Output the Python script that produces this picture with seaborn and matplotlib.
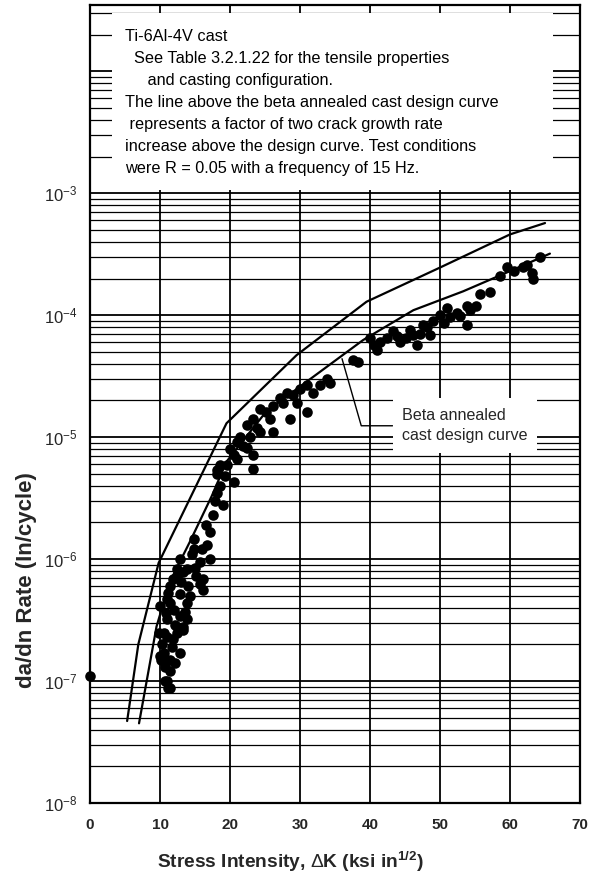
import matplotlib
matplotlib.use("Agg")
import matplotlib.pyplot as plt
from matplotlib.patches import Rectangle
from matplotlib.ticker import LogLocator, NullLocator
import pandas as pd
import seaborn as sns

sns.set_theme(style="white")
plt.rcParams["font.family"] = ["Liberation Sans", "DejaVu Sans"]
plt.rcParams["mathtext.fontset"] = "custom"
plt.rcParams["mathtext.rm"] = "Liberation Sans"
plt.rcParams["mathtext.bf"] = "Liberation Sans:bold"

# Measured crack growth data, Ti-6Al-4V cast (Delta K in ksi*in^1/2, da/dN in in/cycle)
delta_k = [
    64.3, 63.1, 61.9, 59.5, 58.6, 60.5, 63.3, 57.1, 55.7, 55.2, 53.8, 53.8, 52.9, 51.0,
    50.0, 49.0, 47.6, 46.2, 45.2, 44.3, 43.3, 42.4, 41.4, 40.5, 40.0, 46.7, 48.6, 51.4,
    37.6, 38.3, 41.0, 43.8, 45.7, 47.1, 48.1, 50.5, 52.4, 54.3, 62.4,
    33.8, 32.9, 31.9, 31.0, 30.0, 29.0, 28.1, 31.0, 28.6, 27.1, 26.2, 25.2, 24.3, 23.3,
    22.4, 26.2, 24.3, 21.4, 21.0, 22.4, 23.3, 20.5, 19.5, 18.1, 23.3, 34.3, 27.6, 29.5,
    25.7, 23.8, 22.9, 21.9, 20.0,
    18.6, 20.5, 18.1, 19.0, 18.1, 17.6, 17.1, 14.8, 14.8, 16.7, 17.1, 15.7, 13.8, 12.4,
    15.2, 16.2, 11.4, 12.9, 10.0, 11.4, 13.8, 12.9, 11.0, 13.3, 10.5, 11.9, 12.9, 10.5,
    11.4, 10.0, 11.4, 11.0, 11.2, 12.9, 12.4,
    11.9, 11.0, 13.3, 14.3, 16.2, 13.8, 12.4, 13.3, 11.0, 10.2, 9.8, 10.7, 11.4, 21.0,
    10.7, 11.7, 12.1, 10.3, 12.2, 10.8, 12.0, 13.6, 11.2, 14.0, 15.0, 14.5, 16.0, 13.0,
    15.7, 16.5, 17.8, 18.5, 19.3,
    0.0,
]
growth_rate = [
    3.0e-4, 2.2e-4, 2.5e-4, 2.5e-4, 2.1e-4, 2.3e-4, 2.0e-4, 1.56e-4, 1.5e-4, 1.18e-4, 1.18e-4, 8.3e-5, 9.8e-5, 1.15e-4,
    1.0e-4, 8.9e-5, 8.3e-5, 6.9e-5, 6.5e-5, 6.0e-5, 7.4e-5, 6.5e-5, 6.0e-5, 5.7e-5, 6.5e-5, 5.7e-5, 6.9e-5, 9.6e-5,
    4.3e-5, 4.1e-5, 5.2e-5, 6.8e-5, 7.6e-5, 7.0e-5, 8.0e-5, 8.6e-5, 1.05e-4, 1.1e-4, 2.6e-4,
    3.0e-5, 2.7e-5, 2.3e-5, 2.7e-5, 2.5e-5, 2.2e-5, 2.3e-5, 1.6e-5, 1.4e-5, 2.1e-5, 1.8e-5, 1.6e-5, 1.7e-5, 1.4e-5,
    1.25e-5, 1.1e-5, 1.1e-5, 1.0e-5, 9.1e-6, 8.1e-6, 7.1e-6, 7.1e-6, 5.9e-6, 5.0e-6, 5.5e-6, 2.8e-5, 1.9e-5, 1.9e-5,
    1.4e-5, 1.2e-5, 1.0e-5, 8.5e-6, 8.0e-6,
    5.9e-6, 4.3e-6, 5.4e-6, 2.8e-6, 3.5e-6, 2.3e-6, 1.66e-6, 1.45e-6, 1.2e-6, 1.3e-6, 1.0e-6, 9.5e-7, 8.3e-7, 7.2e-7,
    7.2e-7, 5.6e-7, 6.0e-7, 5.2e-7, 4.1e-7, 4.4e-7, 4.4e-7, 3.4e-7, 3.2e-7, 2.8e-7, 2.5e-7, 2.2e-7, 1.7e-7, 1.7e-7,
    1.5e-7, 1.6e-7, 1.2e-7, 1.0e-7, 8.8e-8, 1.0e-6, 8.3e-7,
    6.9e-7, 4.7e-7, 7.8e-7, 5.0e-7, 6.9e-7, 3.2e-7, 2.5e-7, 2.6e-7, 2.3e-7, 1.5e-7, 2.5e-7, 1.0e-7, 8.8e-8, 6.6e-6,
    1.3e-7, 1.9e-7, 1.4e-7, 2.0e-7, 2.9e-7, 3.6e-7, 3.8e-7, 3.7e-7, 5.3e-7, 6.0e-7, 8.5e-7, 1.1e-6, 1.2e-6, 6.5e-7,
    6.3e-7, 1.9e-6, 3.0e-6, 4.0e-6, 4.8e-6,
    1.1e-7,
]

# Beta annealed cast design curve
design_k = [7.0, 9.5, 11.4, 14.3, 17.4, 19.5, 25.2, 30.0, 39.0, 46.2, 53.3, 60.0, 65.7]
design_rate = [4.5e-8, 2.8e-7, 6.5e-7, 1.4e-6, 3.3e-6, 6.3e-6, 1.63e-5, 2.6e-5,
               6.25e-5, 1.1e-4, 1.57e-4, 2.3e-4, 3.2e-4]

# Factor-of-two curve above the design curve
upper_k = [5.3, 6.9, 9.8, 19.5, 29.5, 39.5, 50.0, 60.0, 65.0]
upper_rate = [4.7e-8, 2.0e-7, 9.3e-7, 1.3e-5, 4.7e-5, 1.29e-4, 2.46e-4, 4.6e-4, 5.7e-4]

x_ticks = [0, 10, 20, 30, 40, 50, 60, 70]
y_ticks = [1e-8, 1e-7, 1e-6, 1e-5, 1e-4, 1e-3, 1e-2]
y_tick_labels = [r"$\mathregular{10^{-8}}$", r"$\mathregular{10^{-7}}$", r"$\mathregular{10^{-6}}$",
                 r"$\mathregular{10^{-5}}$", r"$\mathregular{10^{-4}}$", r"$\mathregular{10^{-3}}$", ""]

note = ("Ti-6Al-4V cast\n"
        "  See Table 3.2.1.22 for the tensile properties\n"
        "     and casting configuration.\n"
        "The line above the beta annealed cast design curve\n"
        " represents a factor of two crack growth rate\n"
        "increase above the design curve. Test conditions\n"
        "were R = 0.05 with a frequency of 15 Hz.")

data = pd.DataFrame({"dk": delta_k, "rate": growth_rate})
design = pd.DataFrame({"dk": design_k, "rate": design_rate})
upper = pd.DataFrame({"dk": upper_k, "rate": upper_rate})

fig = plt.figure(figsize=(5.99, 8.92), dpi=100)
ax = fig.add_axes([0.1503, 0.0998, 0.818, 0.8946])
ax.set_yscale("log")
ax.set_xlim(0, 70)
ax.set_ylim(1e-8, 0.035)

# log grid in black
ax.set_xticks(x_ticks)
ax.xaxis.set_minor_locator(NullLocator())
ax.set_yticks(y_ticks)
ax.set_yticklabels(y_tick_labels)
ax.yaxis.set_minor_locator(LogLocator(base=10, subs=range(2, 10), numticks=50))
ax.grid(which="major", color="black", lw=1.3, zorder=0)
ax.grid(which="minor", axis="y", color="black", lw=0.9, zorder=0)
ax.set_axisbelow(True)

sns.lineplot(data=upper, x="dk", y="rate", ax=ax, color="black", lw=1.6,
             estimator=None, sort=False, zorder=3)
sns.lineplot(data=design, x="dk", y="rate", ax=ax, color="black", lw=1.6,
             estimator=None, sort=False, zorder=3)
sns.scatterplot(data=data, x="dk", y="rate", ax=ax, color="black", s=58,
                edgecolor="black", linewidth=0, zorder=4, clip_on=False)

# white panel behind the note
ax.add_patch(Rectangle((0.045, 0.768), 0.9, 0.222, transform=ax.transAxes,
                       facecolor="white", edgecolor="none", zorder=2))
ax.text(0.0714, 0.970, note, transform=ax.transAxes, ha="left", va="top",
        fontsize=11.7, linespacing=1.58, color="black", zorder=5)

ax.annotate("Beta annealed\ncast design curve", xy=(36.0, 4.4e-5), xytext=(44.6, 1.24e-5),
            ha="left", va="center", fontsize=11.6, linespacing=1.45, zorder=5,
            bbox=dict(boxstyle="square,pad=0.6", facecolor="white", edgecolor="none"),
            arrowprops=dict(arrowstyle="-", color="black", lw=1.0,
                            connectionstyle="angle,angleA=0,angleB=106,rad=0",
                            shrinkA=0, shrinkB=0))

ax.tick_params(axis="both", length=0)
ax.tick_params(axis="x", pad=11, labelsize=11)
ax.tick_params(axis="y", pad=9, labelsize=12)
for lab in ax.get_xticklabels():
    lab.set_fontweight("bold")
for spine in ax.spines.values():
    spine.set_color("black")
    spine.set_linewidth(1.6)
    spine.set_zorder(6)

ax.set_xlabel(r"Stress Intensity, $\Delta$K (ksi in$^{\mathbf{1/2}}$)", fontsize=13.8,
              fontweight="bold")
ax.xaxis.set_label_coords(0.41, -0.058)
ax.set_ylabel("da/dn Rate (In/cycle)", fontsize=16, fontweight="bold")
ax.yaxis.set_label_coords(-0.108, 0.279)

fig.savefig("out.png", dpi=100)
